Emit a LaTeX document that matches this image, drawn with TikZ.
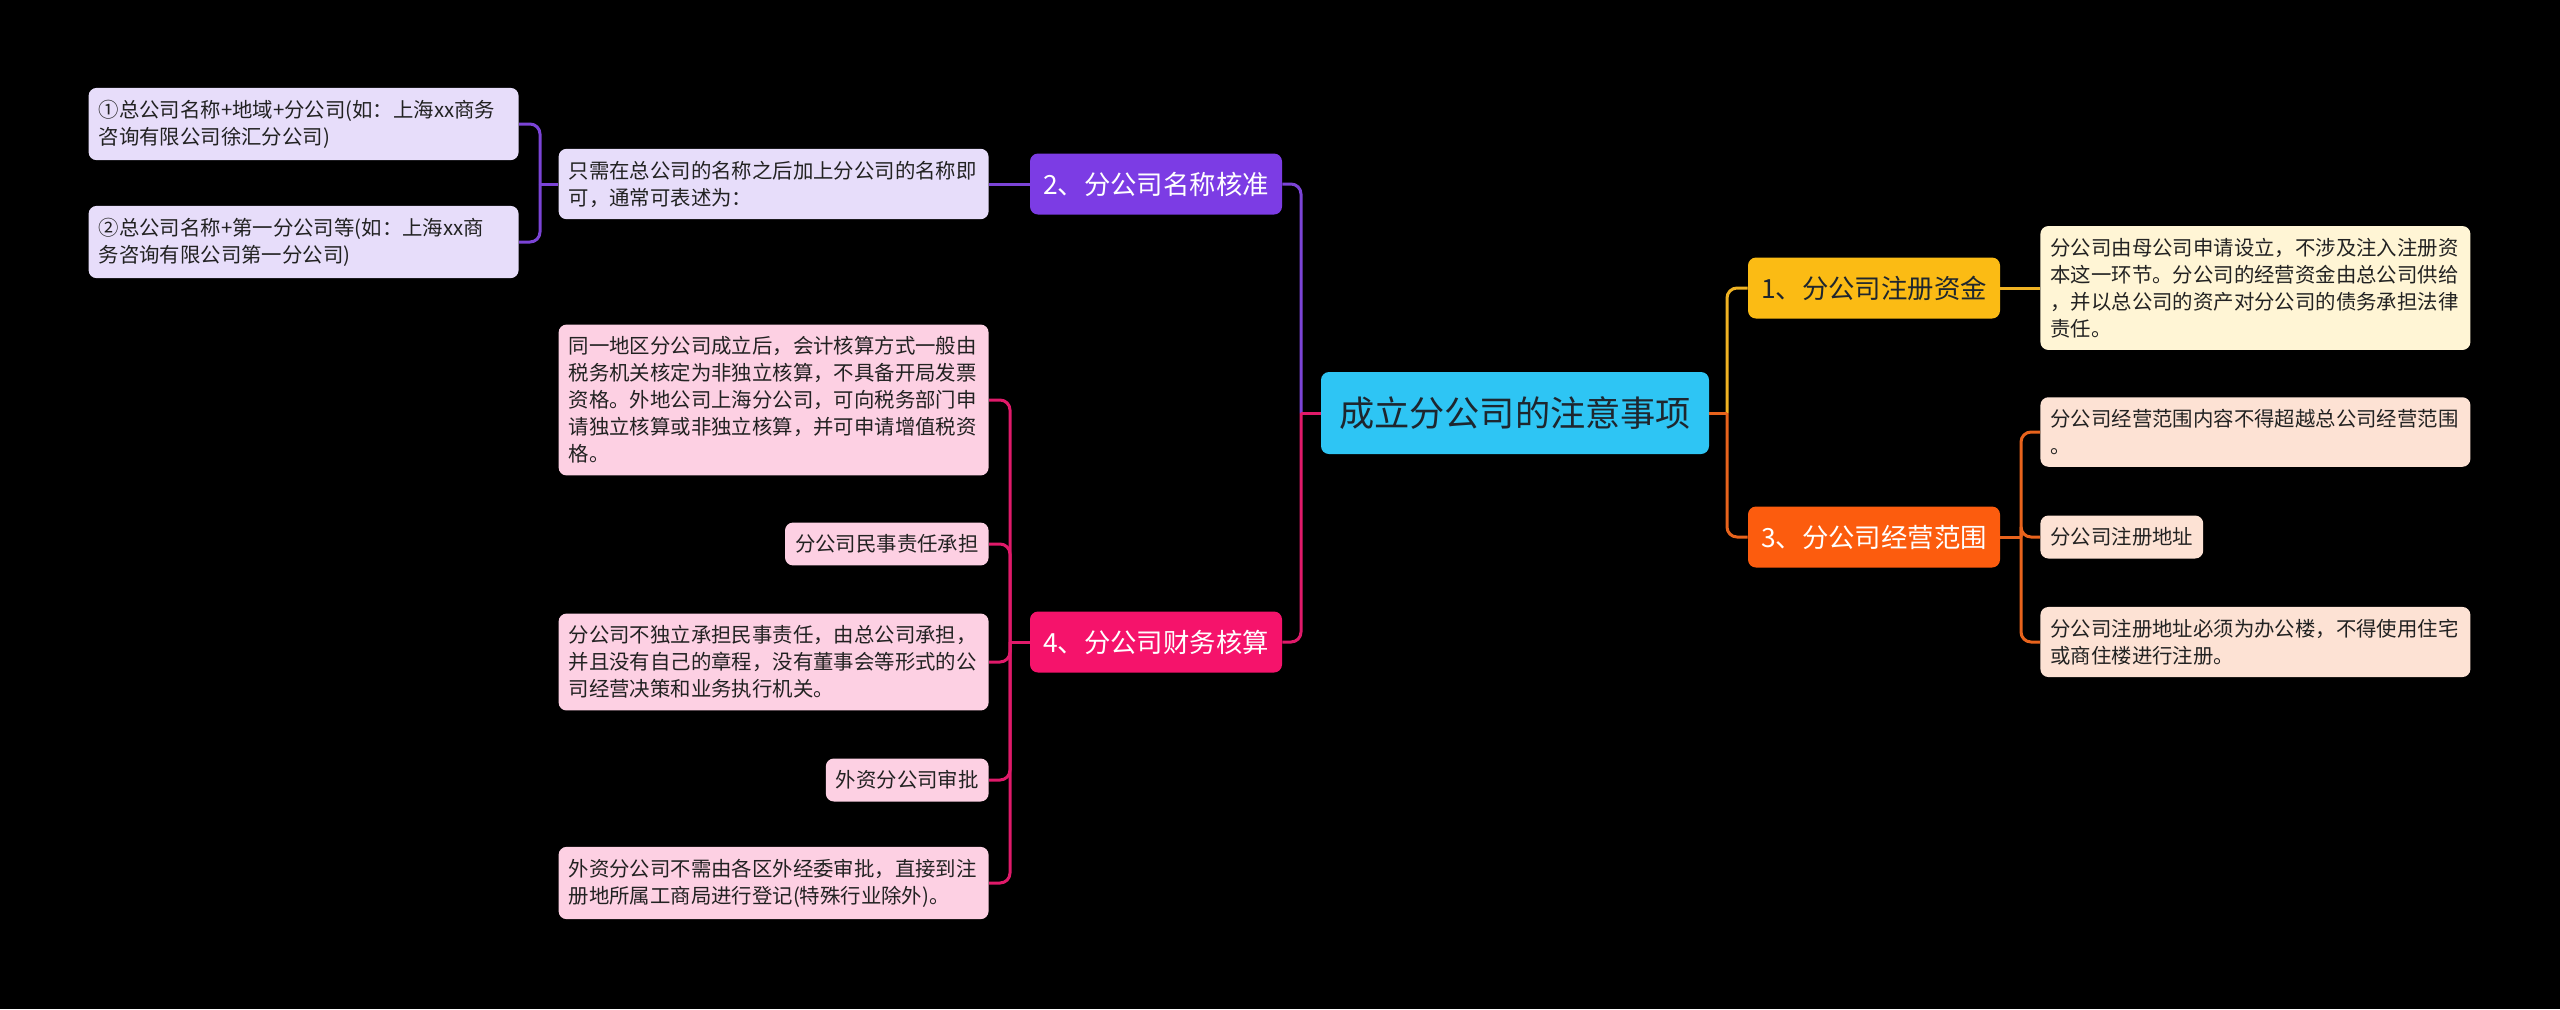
\documentclass[tikz,border=0pt]{standalone}
\usepackage{fontspec}
\newfontfamily\cjk{Noto Sans CJK SC}

\definecolor{mainfill}{RGB}{46,197,244}
\definecolor{mainink}{RGB}{30,38,46}
\definecolor{leafink}{RGB}{34,34,34}
\definecolor{amberfill}{RGB}{251,187,20}
\definecolor{amberline}{RGB}{240,179,35}
\definecolor{creamfill}{RGB}{255,245,213}
\definecolor{flamefill}{RGB}{252,92,14}
\definecolor{flameline}{RGB}{232,99,28}
\definecolor{peachfill}{RGB}{253,226,212}
\definecolor{plumfill}{RGB}{124,60,228}
\definecolor{plumline}{RGB}{123,68,214}
\definecolor{lilacfill}{RGB}{231,221,250}
\definecolor{rosefill}{RGB}{245,19,107}
\definecolor{roseline}{RGB}{224,26,106}
\definecolor{blushfill}{RGB}{253,208,227}

\begin{document}
\begin{tikzpicture}[x=0.5pt,y=-0.5pt,
  mainbox/.style={fill=mainfill,text=mainink,rounded corners=4pt,minimum width=194pt,minimum height=41pt,inner sep=0pt,font=\cjk\fontsize{17.6}{21}\selectfont},
  topic/.style={rounded corners=4pt,minimum width=126pt,minimum height=30.5pt,inner sep=0pt,font=\cjk\fontsize{13.2}{16}\selectfont},
  leafbox/.style={rounded corners=4pt,inner xsep=5pt,inner ysep=6pt,align=left,text=leafink,font=\cjk\fontsize{10.2}{13.5}\selectfont},
  leafwide/.style={leafbox,text width=205pt},
  link/.style={line width=1.5pt,rounded corners=5pt}]

  % background
  \fill[black] (0,0) rectangle (2560,1009);
  \useasboundingbox (0,0) rectangle (2560,1009);

  % centre
  \node[mainbox] (main) at (1515,413) {成立分公司的注意事项};
  \coordinate (jl) at (1301,413);
  \coordinate (jr) at (1727,413);

  % 1: registered capital
  \begin{scope}
    \node[topic,fill=amberfill,text=mainink] (t1) at (1874,288) {1、分公司注册资金};
    \node[leafwide,fill=creamfill,anchor=west] (t1a) at (2040,288)
      {分公司由母公司申请设立，不涉及注入注册资\\本这一环节。分公司的经营资金由总公司供给\\，并以总公司的资产对分公司的债务承担法律\\责任。};
    \draw[link,amberline] (jr) |- (t1.west);
    \draw[link,amberline] (t1.east) -- (t1a.west);
  \end{scope}

  % 3: business scope
  \begin{scope}
    \node[topic,fill=flamefill,text=white] (t3) at (1874,537) {3、分公司经营范围};
    \coordinate (j3) at (2021,537);
    \node[leafwide,fill=peachfill,anchor=west] (t3a) at (2040,432)
      {分公司经营范围内容不得超越总公司经营范围\\。};
    \node[leafbox,fill=peachfill,anchor=west] (t3b) at (2040,537) {分公司注册地址};
    \node[leafwide,fill=peachfill,anchor=west] (t3c) at (2040,642)
      {分公司注册地址必须为办公楼，不得使用住宅\\或商住楼进行注册。};
    \draw[link,flameline] (main.east) -- (jr);
    \draw[link,flameline] (jr) |- (t3.west);
    \draw[link,flameline] (t3.east) -- (j3);
    \foreach \leaf in {t3a,t3b,t3c}
      \draw[link,flameline] (j3) |- (\leaf.west);
  \end{scope}

  % 2: name approval
  \begin{scope}
    \node[topic,fill=plumfill,text=white] (t2) at (1156,184) {2、分公司名称核准};
    \node[leafwide,fill=lilacfill,anchor=east] (t2a) at (989,184)
      {只需在总公司的名称之后加上分公司的名称即\\可，通常可表述为：};
    \coordinate (j2) at (540,184);
    \node[leafwide,fill=lilacfill,anchor=east] (t2a1) at (519,124)
      {①总公司名称+地域+分公司(如：上海xx商务\\咨询有限公司徐汇分公司)};
    \node[leafwide,fill=lilacfill,anchor=east] (t2a2) at (519,242)
      {②总公司名称+第一分公司等(如：上海xx商\\务咨询有限公司第一分公司)};
    \draw[link,plumline] (jl) |- (t2.east);
    \draw[link,plumline] (t2.west) -- (t2a.east);
    \draw[link,plumline] (t2a.west) -- (j2);
    \foreach \leaf in {t2a1,t2a2}
      \draw[link,plumline] (j2) |- (\leaf.east);
  \end{scope}

  % 4: accounting
  \begin{scope}
    \node[topic,fill=rosefill,text=white] (t4) at (1156,642) {4、分公司财务核算};
    \coordinate (j4) at (1010,642);
    \node[leafwide,fill=blushfill,anchor=east] (t4a) at (989,400)
      {同一地区分公司成立后，会计核算方式一般由\\税务机关核定为非独立核算，不具备开局发票\\资格。外地公司上海分公司，可向税务部门申\\请独立核算或非独立核算，并可申请增值税资\\格。};
    \node[leafbox,fill=blushfill,anchor=east] (t4b) at (989,544) {分公司民事责任承担};
    \node[leafwide,fill=blushfill,anchor=east] (t4c) at (989,662)
      {分公司不独立承担民事责任，由总公司承担，\\并且没有自己的章程，没有董事会等形式的公\\司经营决策和业务执行机关。};
    \node[leafbox,fill=blushfill,anchor=east] (t4d) at (989,780) {外资分公司审批};
    \node[leafwide,fill=blushfill,anchor=east] (t4e) at (989,883)
      {外资分公司不需由各区外经委审批，直接到注\\册地所属工商局进行登记(特殊行业除外)。};
    \draw[link,roseline] (main.west) -- (jl);
    \draw[link,roseline] (jl) |- (t4.east);
    \draw[link,roseline] (t4.west) -- (j4);
    \foreach \leaf in {t4a,t4b,t4c,t4d,t4e}
      \draw[link,roseline] (j4) |- (\leaf.east);
  \end{scope}
\end{tikzpicture}
\end{document}
